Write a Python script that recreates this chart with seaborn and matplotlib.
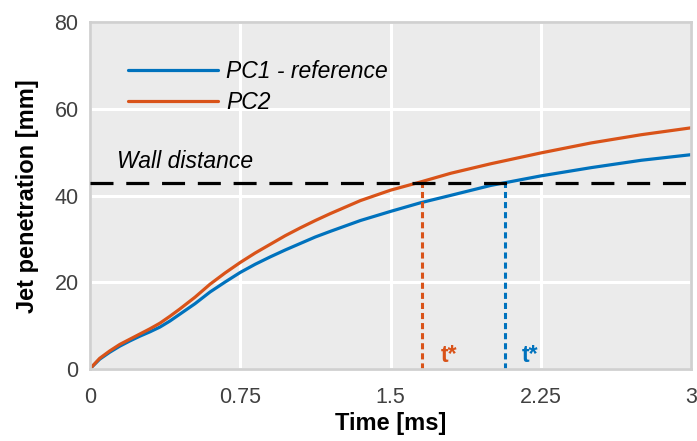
import numpy as np
import pandas as pd
import seaborn as sns
import matplotlib
matplotlib.use("Agg")
import matplotlib.pyplot as plt

# Jet penetration curves for the two configurations
time_ms = [0, 0.05, 0.1, 0.15, 0.2, 0.25, 0.3, 0.35, 0.4, 0.45, 0.525, 0.6,
           0.675, 0.75, 0.825, 0.9, 0.975, 1.05, 1.125, 1.2, 1.35,
           1.5, 1.65, 1.8, 2.0, 2.25, 2.5, 2.75, 3.0]
pc1_mm = [0, 2.3, 3.9, 5.3, 6.5, 7.6, 8.6, 9.7, 11.1, 12.7, 15.1, 17.8,
          20.1, 22.3, 24.2, 25.9, 27.5, 29.0, 30.5, 31.8, 34.3,
          36.4, 38.4, 40.1, 42.4, 44.6, 46.5, 48.2, 49.5]
pc2_mm = [0, 2.5, 4.2, 5.7, 6.9, 8.1, 9.3, 10.6, 12.2, 13.9, 16.6, 19.6,
          22.2, 24.6, 26.8, 28.8, 30.8, 32.6, 34.3, 35.9, 38.9,
          41.3, 43.2, 45.2, 47.4, 49.9, 52.2, 54.1, 55.7]
series_names = ["PC1 - reference", "PC2"]

wall_mm = 43.0
t_star = {"PC2": 1.657, "PC1 - reference": 2.069}

x_ticks = [0, 0.75, 1.5, 2.25, 3]
x_tick_labels = ["0", "0.75", "1.5", "2.25", "3"]
y_ticks = [0, 20, 40, 60, 80]

colors = {"PC1 - reference": "#0072BD", "PC2": "#D95319"}

df = pd.DataFrame({
    "Time": time_ms * 2,
    "Penetration": pc1_mm + pc2_mm,
    "Case": [series_names[0]] * len(time_ms) + [series_names[1]] * len(time_ms),
})

sns.set_style("darkgrid", {
    "axes.facecolor": "#EBEBEB",
    "grid.color": "white",
    "axes.edgecolor": "#D0D0D0",
    "text.color": "black",
    "axes.labelcolor": "black",
})
plt.rcParams["font.family"] = ["Liberation Sans", "DejaVu Sans"]

fig = plt.figure(figsize=(6.97, 4.41), dpi=100)
ax = fig.add_axes([0.1287, 0.163, 0.8633, 0.786])

sns.lineplot(data=df, x="Time", y="Penetration", hue="Case",
             palette=colors, hue_order=series_names, linewidth=2.3, ax=ax)

# wall distance and t* markers
ax.axhline(wall_mm, color="black", linewidth=2.3, dashes=(7.2, 4.0), zorder=3)
ax.text(0.134, 46.4, "Wall distance", fontsize=16.5, fontstyle="italic",
        color="black", va="baseline", ha="left")
for name, ts in t_star.items():
    ax.plot([ts, ts], [0, wall_mm], color=colors[name], linewidth=2.2,
            dashes=(2.0, 1.3), zorder=2)
ax.text(1.749, 1.7, "t*", color=colors["PC2"], fontsize=16.5, fontweight="bold",
        va="baseline", ha="left")
ax.text(2.155, 1.7, "t*", color=colors["PC1 - reference"], fontsize=16.5,
        fontweight="bold", va="baseline", ha="left")

ax.set_xlim(0, 3)
ax.set_ylim(0, 80)
ax.set_xticks(x_ticks)
ax.set_xticklabels(x_tick_labels)
ax.set_yticks(y_ticks)
ax.grid(True, color="white", linewidth=2.2)
ax.tick_params(axis="both", length=0, labelsize=15.5, labelcolor="#404040")
ax.tick_params(axis="x", pad=13)
ax.tick_params(axis="y", pad=8)
for s in ax.spines.values():
    s.set_visible(True)
    s.set_color("#D0D0D0")
    s.set_linewidth(2.0)

ax.set_xlabel("Time [ms]", fontsize=17, fontweight="bold", labelpad=3,
              color="black")
ax.set_ylabel("Jet penetration [mm]", fontsize=17, fontweight="bold",
              labelpad=11, color="black")

leg = ax.legend(loc="upper left", bbox_to_anchor=(0.0636, 0.893), frameon=False,
                borderpad=0, borderaxespad=0, handlelength=3.93,
                handletextpad=0.35, labelspacing=0.38,
                prop={"style": "italic", "size": 16.5})
for t in leg.get_texts():
    t.set_color("black")

fig.savefig("out.png", dpi=100)
